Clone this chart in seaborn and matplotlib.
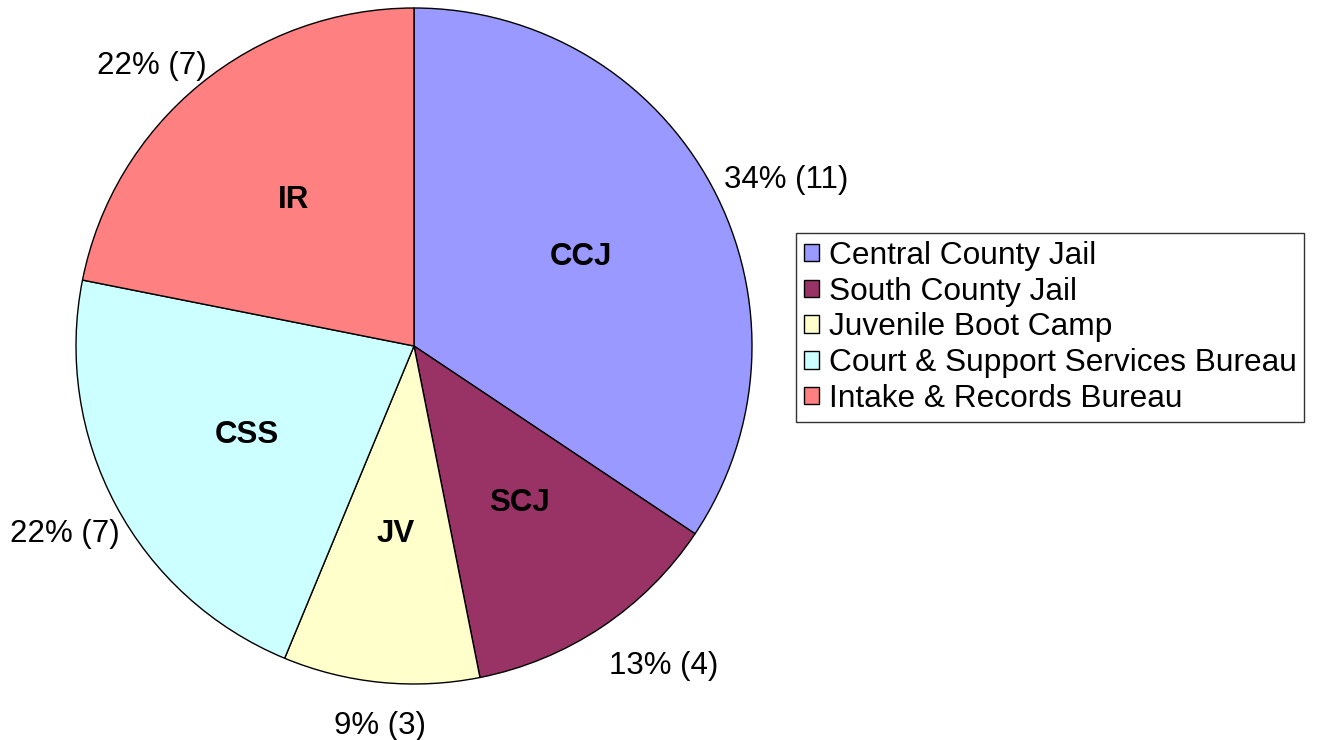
import numpy as np
import matplotlib
matplotlib.use("Agg")
import matplotlib.pyplot as plt
import seaborn as sns

# ---- data ----
abbrevs = ["CCJ", "SCJ", "JV", "CSS", "IR"]
names = ["Central County Jail", "South County Jail", "Juvenile Boot Camp",
         "Court & Support Services Bureau", "Intake & Records Bureau"]
counts = [11, 4, 3, 7, 7]
colors = ["#9999FF", "#993366", "#FFFFCC", "#CCFFFF", "#FF8080"]

sns.set_theme(style="white")
plt.rcParams["font.family"] = ["Liberation Sans", "DejaVu Sans"]
plt.rcParams["text.color"] = "black"

W, H = 1317, 740
fig = plt.figure(figsize=(W / 100, H / 100), dpi=100)
cx, cy, r = 414, 346, 338
ax = fig.add_axes([(cx - r) / W, (H - cy - r) / H, 2 * r / W, 2 * r / H])

wedges, inner = ax.pie(
    counts, colors=colors, startangle=90, counterclock=False,
    labels=abbrevs, labeldistance=0.56,
    wedgeprops=dict(edgecolor="black", linewidth=1.0),
    textprops=dict(fontsize=22.5, fontweight="bold", color="black"),
)
for t in inner:
    t.set_ha("center")
    t.set_va("center")
ax.set_xlim(-1, 1)
ax.set_ylim(-1, 1)
ax.set_aspect("equal")
ax.set_axis_off()

total = sum(counts)
for w, c in zip(wedges, counts):
    theta = np.deg2rad((w.theta1 + w.theta2) / 2)
    cs, sn = np.cos(theta), np.sin(theta)
    d = 1.04
    ha = "left" if cs > 0.3 else ("right" if cs < -0.3 else "center")
    va = "bottom" if sn > 0.5 else ("top" if sn < -0.3 else "center")
    dx = 11.0 if ha == "right" else 0.0
    dy = -11.0 * max(0.0, -sn) - (5.0 if va == "bottom" else 0.0)
    pct = int(100 * c / total + 0.5)
    ax.annotate(f"{pct}% ({c})", xy=(d * cs, d * sn), xytext=(dx, dy),
                textcoords="offset points", ha=ha, va=va, fontsize=22.5,
                color="black", annotation_clip=False)

leg = fig.legend(
    wedges, names, loc="upper left",
    bbox_to_anchor=(796 / W, 1 - 233 / H),
    fontsize=22.8, frameon=True, fancybox=False, shadow=False,
    handlelength=0.48, handleheight=0.48, handletextpad=0.3,
    labelspacing=0.18, borderpad=0.25, borderaxespad=0.0,
    labelcolor="black",
)
leg.get_frame().set_edgecolor("black")
leg.get_frame().set_linewidth(1.0)
for h in leg.legend_handles:
    h.set_edgecolor("black")
    h.set_linewidth(1.0)

fig.savefig("out.png", dpi=100, facecolor="white")
